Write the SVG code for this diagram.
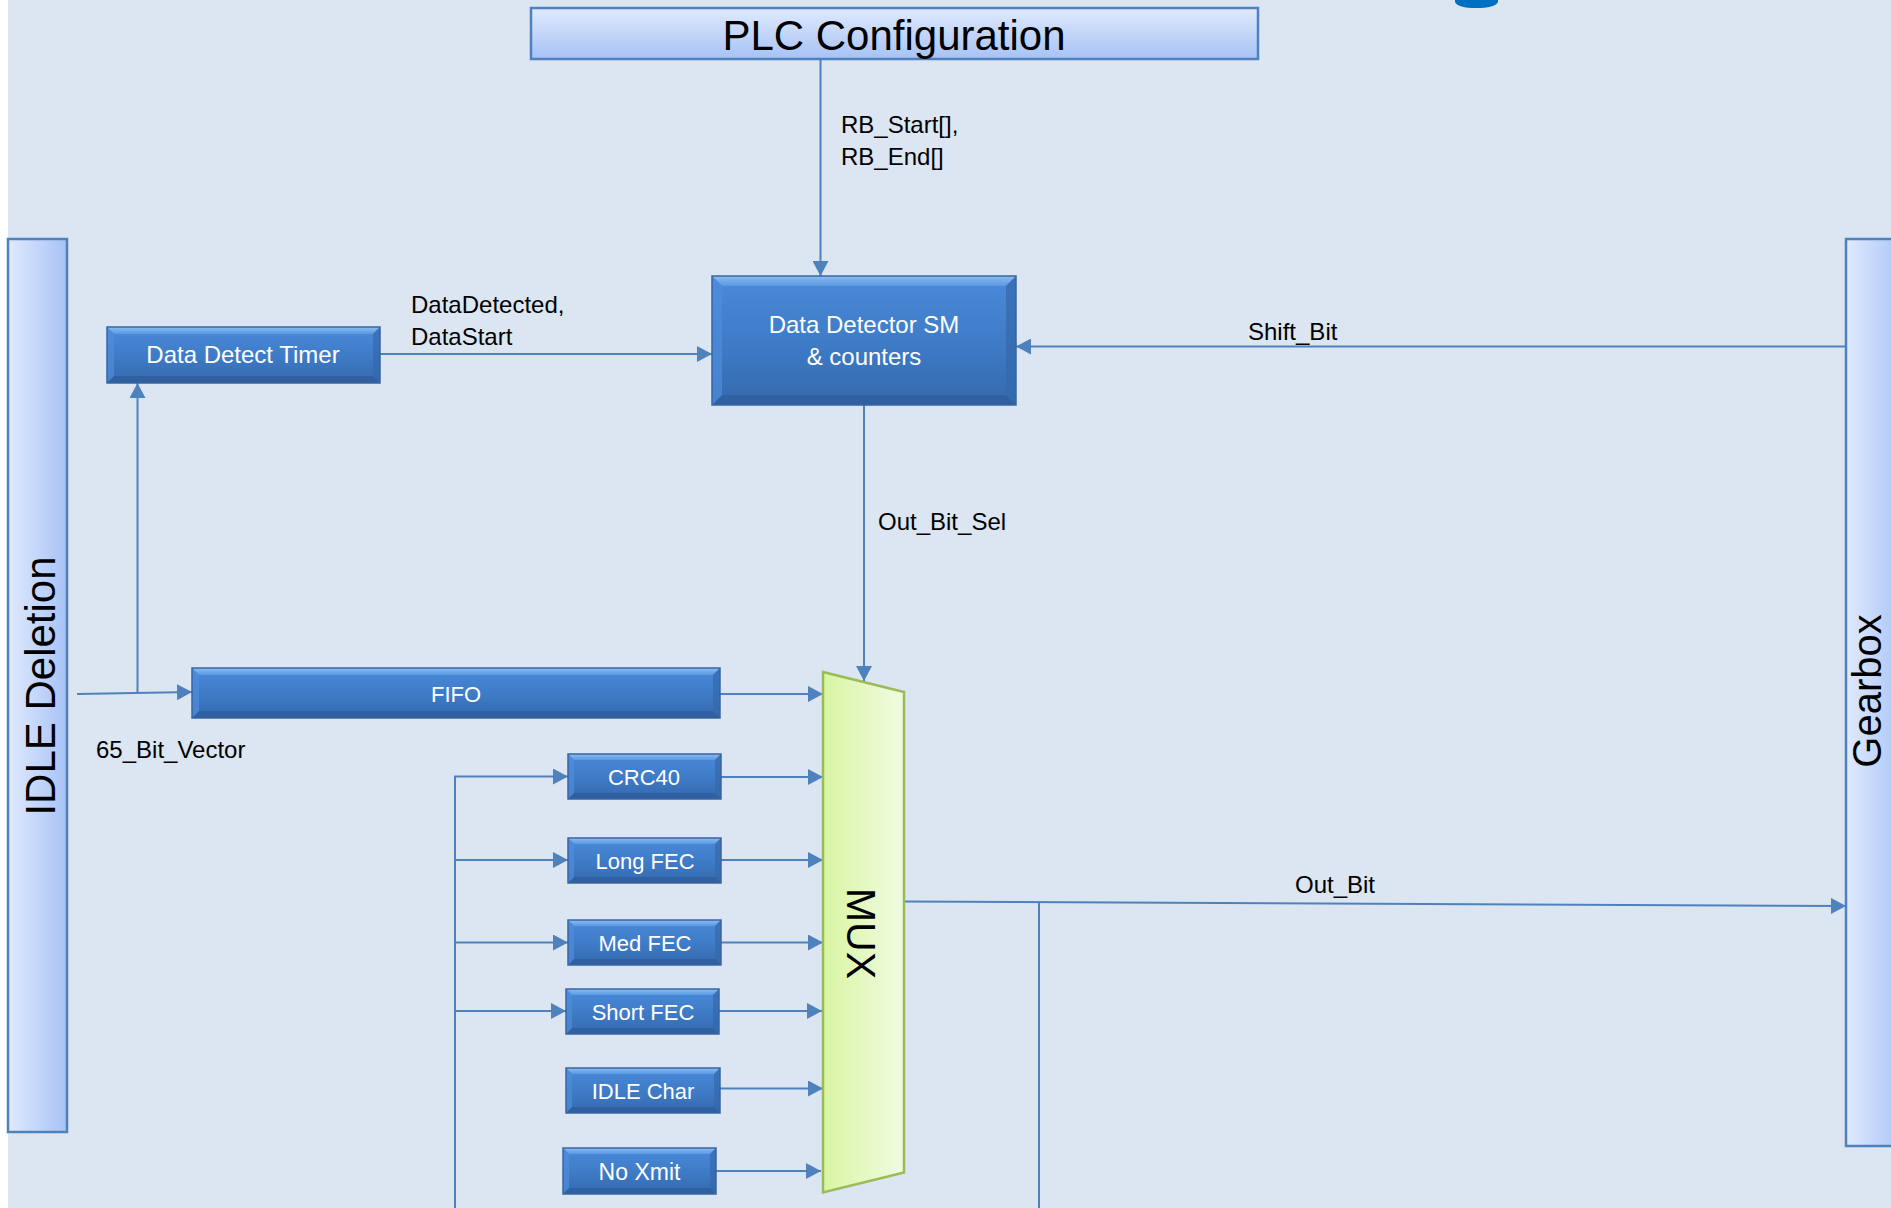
<svg xmlns="http://www.w3.org/2000/svg" width="1891" height="1208" viewBox="0 0 1891 1208">
  <style>
    .lbl { font-family: "Liberation Sans", Arial, sans-serif; font-size: 24px; fill: #000; }
    .btxt { font-family: "Liberation Sans", Arial, sans-serif; fill: #fff; text-anchor: middle; }
    .big { font-family: "Liberation Sans", Arial, sans-serif; fill: #000; text-anchor: middle; }
    .face { fill: url(#faceGrad); }
    .bt { fill: url(#bevTop); }
    .bb { fill: #2f5e9e; opacity: 0.85; }
    .bl { fill: #4f8ddb; opacity: 0.7; }
    .br { fill: #3468ab; opacity: 0.7; }
    .edge { fill: none; stroke: #3765a3; stroke-width: 1.5; }
    .bar { stroke: #4f81bd; stroke-width: 2.5; }
    .wire { fill: none; stroke: #4f81bd; stroke-width: 2; }
    .arr { marker-end: url(#ah); }
  </style>
  <defs>
    <linearGradient id="faceGrad" x1="0" y1="0" x2="0" y2="1">
      <stop offset="0" stop-color="#4a8ad9"/>
      <stop offset="0.5" stop-color="#3f7cc8"/>
      <stop offset="1" stop-color="#3569ad"/>
    </linearGradient>
    <linearGradient id="bevTop" x1="0" y1="0" x2="0" y2="1">
      <stop offset="0" stop-color="#8cbcf0"/>
      <stop offset="1" stop-color="#5a98e2"/>
    </linearGradient>
    <linearGradient id="sideBar" x1="0" y1="0" x2="1" y2="0">
      <stop offset="0" stop-color="#e0eafd"/>
      <stop offset="1" stop-color="#a7c2f6"/>
    </linearGradient>
    <linearGradient id="topBar" x1="0" y1="0" x2="0" y2="1">
      <stop offset="0" stop-color="#e0eafd"/>
      <stop offset="1" stop-color="#a7c2f6"/>
    </linearGradient>
    <linearGradient id="muxGrad" x1="0" y1="0" x2="1" y2="0">
      <stop offset="0" stop-color="#d8f5a2"/>
      <stop offset="1" stop-color="#f1fbe3"/>
    </linearGradient>
    <marker id="ah" markerUnits="userSpaceOnUse" markerWidth="15" markerHeight="16" refX="15" refY="8" orient="auto">
      <path d="M0,0 L15,8 L0,16 Z" fill="#4f81bd"/>
    </marker>
  </defs>

  <!-- page -->
  <rect x="0" y="0" width="1891" height="1208" fill="#ffffff"/>
  <rect x="8" y="0" width="1883" height="1208" fill="#dce6f2"/>
  <path d="M1455,0 L1455,2 Q1458,8 1476,8 Q1495,8 1498,2 L1498,0 Z" fill="#0070c0"/>

  <!-- connectors -->
  <g id="connectors">
    <path class="wire arr" d="M820.5,59 V276"/>
    <path class="wire arr" d="M379,354 H712"/>
    <path class="wire arr" d="M1846,346.5 H1016"/>
    <path class="wire arr" d="M864,405 V681"/>
    <path class="wire arr" d="M77,694 L192,692"/>
    <path class="wire arr" d="M137.5,693 V383"/>
    <path class="wire arr" d="M720,694 H823"/>
    <path class="wire arr" d="M721,777 H823"/>
    <path class="wire arr" d="M721,860 H823"/>
    <path class="wire arr" d="M721,942.5 H823"/>
    <path class="wire arr" d="M719,1011 H822"/>
    <path class="wire arr" d="M720,1088.5 H823"/>
    <path class="wire arr" d="M716,1171 H821"/>
    <path class="wire" d="M455,1208 V776"/>
    <path class="wire arr" d="M454,776.5 H568"/>
    <path class="wire arr" d="M455,860 H568"/>
    <path class="wire arr" d="M455,942.5 H568"/>
    <path class="wire arr" d="M455,1011 H566"/>
    <path class="wire arr" d="M904,901.5 L1846,906"/>
    <path class="wire" d="M1039,902 V1208"/>
  </g>

  <!-- connector labels -->
  <g id="labels">
    <text class="lbl" x="841" y="133">RB_Start[],</text>
    <text class="lbl" x="841" y="165">RB_End[]</text>
    <text class="lbl" x="411" y="313">DataDetected,</text>
    <text class="lbl" x="411" y="345">DataStart</text>
    <text class="lbl" x="1248" y="340">Shift_Bit</text>
    <text class="lbl" x="878" y="530">Out_Bit_Sel</text>
    <text class="lbl" x="96" y="758">65_Bit_Vector</text>
    <text class="lbl" x="1295" y="893">Out_Bit</text>
  </g>

  <g id="plc-config">
    <rect x="531" y="8" width="727" height="51" fill="url(#topBar)" class="bar"/>
    <text class="big" x="894" y="50" font-size="42">PLC Configuration</text>
  </g>

  <g id="idle-deletion">
    <rect x="8" y="239" width="59" height="893" fill="url(#sideBar)" class="bar"/>
    <text class="big" font-size="42" transform="translate(54.5,686) rotate(-90)">IDLE Deletion</text>
  </g>

  <g id="gearbox">
    <rect x="1846" y="239" width="60" height="907" fill="url(#sideBar)" class="bar"/>
    <text class="big" font-size="40" transform="translate(1881,691) rotate(-90)">Gearbox</text>
  </g>

  <g id="data-detector-sm">
    <rect class="face" x="712" y="276" width="304" height="129"/>
    <path class="bt" d="M712,276 H1016 L1006,286 H722 Z"/>
    <path class="bb" d="M712,405 H1016 L1006,395 H722 Z"/>
    <path class="bl" d="M712,276 V405 L722,395 V286 Z"/>
    <path class="br" d="M1016,276 V405 L1006,395 V286 Z"/>
    <rect class="edge" x="712" y="276" width="304" height="129"/>
    <text class="btxt" x="864" y="333" font-size="24">Data Detector SM</text>
    <text class="btxt" x="864" y="365" font-size="24">&amp; counters</text>
  </g>

  <g id="data-detect-timer">
    <rect class="face" x="107" y="327" width="273" height="56"/>
    <path class="bt" d="M107,327 H380 L373,334 H114 Z"/>
    <path class="bb" d="M107,383 H380 L373,376 H114 Z"/>
    <path class="bl" d="M107,327 V383 L114,376 V334 Z"/>
    <path class="br" d="M380,327 V383 L373,376 V334 Z"/>
    <rect class="edge" x="107" y="327" width="273" height="56"/>
    <text class="btxt" x="243" y="363" font-size="24">Data Detect Timer</text>
  </g>

  <g id="fifo">
    <rect class="face" x="192" y="668" width="528" height="50"/>
    <path class="bt" d="M192,668 H720 L713,675 H199 Z"/>
    <path class="bb" d="M192,718 H720 L713,711 H199 Z"/>
    <path class="bl" d="M192,668 V718 L199,711 V675 Z"/>
    <path class="br" d="M720,668 V718 L713,711 V675 Z"/>
    <rect class="edge" x="192" y="668" width="528" height="50"/>
    <text class="btxt" x="456" y="702" font-size="22">FIFO</text>
  </g>

  <g id="crc40">
    <rect class="face" x="568" y="754" width="153" height="45"/>
    <path class="bt" d="M568,754 H721 L715,760 H574 Z"/>
    <path class="bb" d="M568,799 H721 L715,793 H574 Z"/>
    <path class="bl" d="M568,754 V799 L574,793 V760 Z"/>
    <path class="br" d="M721,754 V799 L715,793 V760 Z"/>
    <rect class="edge" x="568" y="754" width="153" height="45"/>
    <text class="btxt" x="644" y="785" font-size="22">CRC40</text>
  </g>

  <g id="long-fec">
    <rect class="face" x="568" y="838" width="153" height="45"/>
    <path class="bt" d="M568,838 H721 L715,844 H574 Z"/>
    <path class="bb" d="M568,883 H721 L715,877 H574 Z"/>
    <path class="bl" d="M568,838 V883 L574,877 V844 Z"/>
    <path class="br" d="M721,838 V883 L715,877 V844 Z"/>
    <rect class="edge" x="568" y="838" width="153" height="45"/>
    <text class="btxt" x="645" y="869" font-size="22">Long FEC</text>
  </g>

  <g id="med-fec">
    <rect class="face" x="568" y="920" width="153" height="45"/>
    <path class="bt" d="M568,920 H721 L715,926 H574 Z"/>
    <path class="bb" d="M568,965 H721 L715,959 H574 Z"/>
    <path class="bl" d="M568,920 V965 L574,959 V926 Z"/>
    <path class="br" d="M721,920 V965 L715,959 V926 Z"/>
    <rect class="edge" x="568" y="920" width="153" height="45"/>
    <text class="btxt" x="645" y="951" font-size="22">Med FEC</text>
  </g>

  <g id="short-fec">
    <rect class="face" x="566" y="989" width="153" height="45"/>
    <path class="bt" d="M566,989 H719 L713,995 H572 Z"/>
    <path class="bb" d="M566,1034 H719 L713,1028 H572 Z"/>
    <path class="bl" d="M566,989 V1034 L572,1028 V995 Z"/>
    <path class="br" d="M719,989 V1034 L713,1028 V995 Z"/>
    <rect class="edge" x="566" y="989" width="153" height="45"/>
    <text class="btxt" x="643" y="1020" font-size="22">Short FEC</text>
  </g>

  <g id="idle-char">
    <rect class="face" x="566" y="1068" width="154" height="45"/>
    <path class="bt" d="M566,1068 H720 L714,1074 H572 Z"/>
    <path class="bb" d="M566,1113 H720 L714,1107 H572 Z"/>
    <path class="bl" d="M566,1068 V1113 L572,1107 V1074 Z"/>
    <path class="br" d="M720,1068 V1113 L714,1107 V1074 Z"/>
    <rect class="edge" x="566" y="1068" width="154" height="45"/>
    <text class="btxt" x="643" y="1099" font-size="22">IDLE Char</text>
  </g>

  <g id="no-xmit">
    <rect class="face" x="563" y="1148" width="153" height="46"/>
    <path class="bt" d="M563,1148 H716 L710,1154 H569 Z"/>
    <path class="bb" d="M563,1194 H716 L710,1188 H569 Z"/>
    <path class="bl" d="M563,1148 V1194 L569,1188 V1154 Z"/>
    <path class="br" d="M716,1148 V1194 L710,1188 V1154 Z"/>
    <rect class="edge" x="563" y="1148" width="153" height="46"/>
    <text class="btxt" x="639.5" y="1180" font-size="23">No Xmit</text>
  </g>

  <g id="mux">
    <path d="M823,672 L904,692 L904,1172.5 L823,1192.5 Z" fill="url(#muxGrad)" stroke="#9bbb59" stroke-width="2.5"/>
    <text class="big" font-size="41" transform="translate(847,933.5) rotate(90)">MUX</text>
  </g>
</svg>
